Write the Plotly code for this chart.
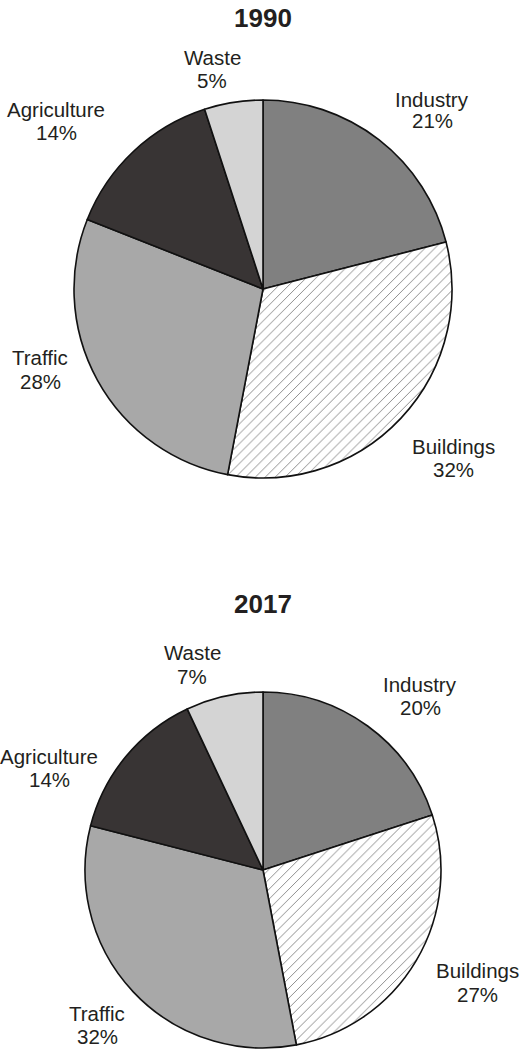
import plotly.graph_objects as go

# ---- data ----
sectors = ["Industry", "Buildings", "Traffic", "Agriculture", "Waste"]
shares_1990 = [21, 32, 28, 14, 5]
shares_2017 = [20, 27, 32, 14, 7]
years = ["1990", "2017"]

# ---- styles ----
slice_colors = ["#808080", "#ffffff", "#a8a8a8", "#383434", "#d4d4d4"]
pattern_shapes = ["", "/", "", "", ""]
W, H = 521, 1049
FONT = "Liberation Sans, Arial, sans-serif"
TXT = "#231f20"

# pie centres / radii in pixels (layout)
pies = [
    dict(cx=263, cy=289, r=189),
    dict(cx=263, cy=870, r=178),
]
# label positions: (x centre, y of name line, y of percent line), per pie, per sector
label_pos = [
    [(432, 99, 121), (453, 446, 469), (40, 358, 381), (56, 109, 132), (212, 57, 80)],
    [(420, 684, 707), (477, 970, 994), (97, 1013, 1036), (49, 756, 779), (192, 652, 676)],
]
title_y = [18, 604]

fig = go.Figure()
annotations = []
for k, (vals, p) in enumerate(zip([shares_1990, shares_2017], pies)):
    fig.add_trace(go.Pie(
        labels=sectors, values=vals, sort=False, direction="clockwise",
        rotation=0, textinfo="none", hoverinfo="label+percent",
        showlegend=False,
        domain=dict(x=[(p["cx"] - p["r"]) / W, (p["cx"] + p["r"]) / W],
                    y=[(H - p["cy"] - p["r"]) / H, (H - p["cy"] + p["r"]) / H]),
        marker=dict(colors=slice_colors,
                    line=dict(color="#111111", width=1.6),
                    pattern=dict(shape=pattern_shapes, fgcolor="#7a7a7a",
                                 bgcolor="#ffffff", size=7, solidity=0.12,
                                 fillmode="replace")),
    ))
    for name, v, (lx, ly1, ly2) in zip(sectors, vals, label_pos[k]):
        for txt, ly in ((name, ly1), (f"{v}%", ly2)):
            annotations.append(dict(
                x=lx / W, y=1 - ly / H, xref="paper", yref="paper",
                text=txt, showarrow=False,
                xanchor="center", yanchor="middle",
                font=dict(family=FONT, size=20.5, color=TXT),
            ))
    annotations.append(dict(
        x=263 / W, y=1 - title_y[k] / H, xref="paper", yref="paper",
        text=f"<b>{years[k]}</b>", showarrow=False,
        xanchor="center", yanchor="middle",
        font=dict(family=FONT, size=26, color=TXT),
    ))

fig.update_layout(
    width=W, height=H, margin=dict(l=0, r=0, t=0, b=0),
    paper_bgcolor="white", plot_bgcolor="white",
    annotations=annotations,
)
fig.write_html("out.html", config={"displayModeBar": False},
               post_script="document.body.style.margin='0';")
